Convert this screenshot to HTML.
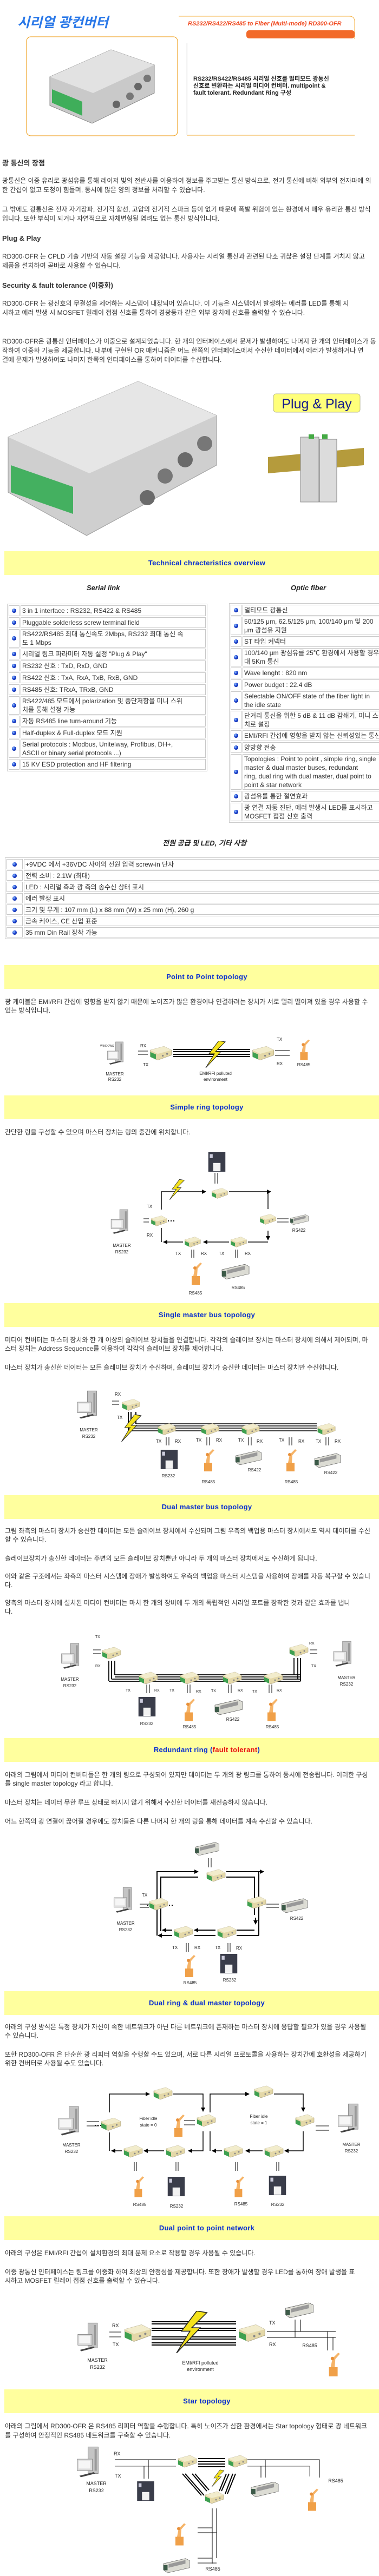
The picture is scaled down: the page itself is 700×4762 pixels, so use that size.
<!DOCTYPE html>
<html><head><meta charset="utf-8">
<style>
html,body{margin:0;padding:0;background:#fff}
#w{position:relative;width:700px;height:4762px;overflow:hidden;font-family:"Liberation Sans","Noto Sans CJK KR",sans-serif}
.t{position:absolute;white-space:nowrap;font-size:12px;line-height:16px;color:#333}
.h{position:absolute;white-space:nowrap;font-size:13px;font-weight:bold;color:#333}
.band{position:absolute;left:8px;width:748px;height:44px;line-height:44px;background:#ffff9e;text-align:center;color:#0a2fd0;font-weight:bold;font-size:13px;letter-spacing:.3px}
.sub{position:absolute;font-size:13px;font-weight:bold;font-style:italic;color:#222;white-space:nowrap}
table.k{position:absolute;border:1px solid #ccc;border-spacing:2px;background:#fff}
table.k td{border:1px solid #c8c8c8;padding:0 2px;font-size:12px;line-height:16px;color:#333;white-space:nowrap;vertical-align:middle}
table.k td.b{width:14px;padding:0 2px;text-align:center}
.dot{display:inline-block;width:8px;height:8px;border-radius:50%;background:radial-gradient(circle at 35% 35%,#9cf 0,#1a3fd0 45%,#001a80 100%)}
svg{position:absolute;left:0;top:0}
svg text{font-family:"Liberation Sans",sans-serif;fill:#222}
</style></head><body><div id="w">
<svg width="700" height="4762" viewBox="0 0 700 4762">
<defs>
<marker id="ar" markerWidth="8" markerHeight="8" refX="7" refY="4" orient="auto" markerUnits="userSpaceOnUse"><path d="M0,0 L8,4 L0,8z" fill="#000"/></marker>
<symbol id="cv" viewBox="0 0 40 26"><polygon points="4,8 26,2 38,8 38,16 16,24 4,18" fill="#e4d8a8" stroke="#aaa080" stroke-width=".6"/><polygon points="4,8 26,2 38,8 16,14" fill="#f2eccc"/><polygon points="4,11 13,15 13,23 4,19" fill="#3fa050"/><circle cx="24" cy="17" r="1.5" fill="#888"/><circle cx="31" cy="14" r="1.5" fill="#888"/></symbol>
<symbol id="pc" viewBox="0 0 40 45"><rect x="22" y="1" width="14" height="37" fill="#c4c4c4" stroke="#777" stroke-width=".6"/><rect x="31" y="4" width="3" height="30" fill="#999"/><rect x="7" y="18" width="21" height="16" fill="#ddd" stroke="#777" stroke-width=".6"/><rect x="9" y="20" width="16" height="11" fill="#f6f6f6"/><polygon points="10,41 30,36 32,38 12,43" fill="#444"/></symbol>
<symbol id="rb" viewBox="0 0 30 45"><rect x="9" y="29" width="15" height="16" fill="#f0a048"/><polygon points="12,29 15,14 25,4 28,6 20,15 19,29" fill="#f6b468"/><circle cx="15" cy="14" r="3" fill="#e8903a"/></symbol>
<symbol id="pr" viewBox="0 0 35 40"><rect x="0" y="0" width="35" height="40" fill="#3a3d4a"/><rect x="3" y="4" width="6" height="8" fill="#ccd"/><rect x="10" y="22" width="15" height="17" fill="#f2f2f2"/></symbol>
<symbol id="pl" viewBox="0 0 55 30"><polygon points="2,12 45,2 53,6 53,20 10,30 2,24" fill="#dcdcd4" stroke="#555" stroke-width=".7"/><polygon points="12,13 45,5 45,12 12,20" fill="#999"/><rect x="2" y="15" width="8" height="10" fill="#3c5a48"/></symbol>
<symbol id="lt" viewBox="0 0 40 50"><polygon points="26,0 8,24 18,24 2,50 30,20 20,20 38,2" fill="#f4e21c" stroke="#222" stroke-width="1"/></symbol>
</defs>

<!-- header -->
<text x="32" y="50" style="font:italic bold 25px 'Liberation Sans','Noto Sans CJK KR',sans-serif;fill:#2a78e8">시리얼 광컨버터</text>
<path d="M330,30 L645,30 Q655,30 655,40 L655,72" fill="none" stroke="#f5b040" stroke-width="1"/>
<rect x="455" y="56" width="200" height="15" rx="5" fill="#f26a2a"/>
<text x="347" y="47" style="font:italic bold 11px 'Liberation Sans',sans-serif;fill:#f04a20">RS232/RS422/RS485 to Fiber (Multi-mode) RD300-OFR</text>
<rect x="49" y="68" width="279" height="183" rx="8" fill="#fff" stroke="#f0a830" stroke-width="1.2"/>
<polygon points="92,142 205,92 285,120 285,172 170,228 92,195" fill="#c9c9c9" stroke="#888"/>
<polygon points="92,142 205,92 285,120 172,172" fill="#e2e2e2"/>
<polygon points="96,165 152,188 152,214 96,190" fill="#3fae5a"/>
<circle cx="215" cy="193" r="7" fill="#666"/><circle cx="240" cy="178" r="7" fill="#777"/><circle cx="255" cy="160" r="7" fill="#666"/><circle cx="272" cy="145" r="7" fill="#777"/>
<line x1="345" y1="250" x2="655" y2="250" stroke="#f0a830"/>
<line x1="345" y1="80" x2="345" y2="250" stroke="#f4f4f4" stroke-width="3"/>
<text x="357" y="149" style="font:bold 11px 'Liberation Sans','Noto Sans CJK KR',sans-serif">RS232/RS422/RS485 시리얼 신호를 멀티모드 광통신</text>
<text x="357" y="162" style="font:bold 11px 'Liberation Sans','Noto Sans CJK KR',sans-serif">신호로 변환하는 시리얼 미디어 컨버터. multipoint &amp;</text>
<text x="357" y="175" style="font:bold 11px 'Liberation Sans','Noto Sans CJK KR',sans-serif">fault tolerant. Redundant Ring 구성</text>

<!-- big product -->
<polygon points="15,808 255,705 400,768 400,860 160,990 15,910" fill="#cfcfcf" stroke="#999"/>
<polygon points="15,808 255,705 400,768 165,875" fill="#e6e6e6"/>
<polygon points="20,860 135,900 135,950 20,910" fill="#44b060"/>
<circle cx="272" cy="920" r="14" fill="#6a6a6a"/><circle cx="305" cy="880" r="14" fill="#777"/><circle cx="342" cy="850" r="14" fill="#6a6a6a"/><circle cx="378" cy="820" r="14" fill="#777"/>
<rect x="505" y="728" width="160" height="34" rx="5" fill="#ffff7a" stroke="#b8b890"/>
<text x="585" y="755" text-anchor="middle" style="font:25px 'Liberation Sans',sans-serif;fill:#141a8c">Plug &amp; Play</text>
<polygon points="495,845 672,828 672,860 495,875" fill="#b59b3c"/>
<rect x="555" y="808" width="34" height="120" fill="#d4d4d4" stroke="#888"/><rect x="590" y="812" width="32" height="116" fill="#dcdcdc" stroke="#888"/>
<rect x="570" y="803" width="10" height="8" fill="#4a4"/><rect x="595" y="803" width="10" height="8" fill="#4a4"/>

<!-- D1 point to point -->
<use href="#pc" x="183" y="1925" width="57" height="45"/>
<text x="185" y="1935" font-size="5">WINDOWS</text>
<text x="212" y="1988" font-size="8" text-anchor="middle">MASTER</text><text x="212" y="1998" font-size="8" text-anchor="middle">RS232</text>
<text x="259" y="1936" font-size="8">RX</text><text x="264" y="1971" font-size="8">TX</text>
<g stroke="#000"><line x1="255" y1="1943" x2="273" y2="1943"/><line x1="255" y1="1949" x2="273" y2="1949"/>
<line x1="320" y1="1940" x2="462" y2="1940" stroke-width="2"/><line x1="320" y1="1944" x2="462" y2="1944" stroke-width="2"/><line x1="320" y1="1949" x2="462" y2="1949" stroke-width="2"/><line x1="320" y1="1953" x2="462" y2="1953" stroke-width="2"/>
<line x1="508" y1="1942" x2="535" y2="1942"/><line x1="508" y1="1951" x2="535" y2="1951"/></g>
<use href="#cv" x="273" y="1932" width="46" height="30"/><use href="#cv" x="462" y="1932" width="46" height="30"/>
<use href="#lt" x="378" y="1924" width="40" height="50"/>
<text x="511" y="1924" font-size="8">TX</text><text x="511" y="1969" font-size="8">RX</text>
<use href="#rb" x="545" y="1918" width="30" height="42"/><text x="561" y="1971" font-size="8" text-anchor="middle">RS485</text>
<text x="398" y="1987" font-size="8" text-anchor="middle">EMI/RFI polluted</text><text x="398" y="1998" font-size="8" text-anchor="middle">environment</text>

<!-- D2 simple ring -->
<use href="#pr" x="383" y="2130" width="35" height="36"/>
<g stroke="#000" fill="none" stroke-width="1.5">
<line x1="397" y1="2168" x2="397" y2="2188" stroke-width="1"/><line x1="402" y1="2168" x2="402" y2="2188" stroke-width="1"/>
<polyline points="298,2236 298,2203 380,2203" marker-end="url(#ar)"/>
<polyline points="423,2203 500,2203" marker-end="url(#ar)"/>
<line x1="495" y1="2203" x2="495" y2="2235"/>
<line x1="495" y1="2275" x2="495" y2="2292" marker-end="url(#ar)"/>
<polyline points="495,2296 458,2296"/><line x1="423" y1="2296" x2="376" y2="2296" marker-end="url(#ar)"/>
<line x1="338" y1="2296" x2="302" y2="2296" marker-end="url(#ar)"/><line x1="298" y1="2296" x2="298" y2="2270"/>
<line x1="265" y1="2253" x2="275" y2="2253" stroke-width="1"/><line x1="265" y1="2259" x2="275" y2="2259" stroke-width="1"/>
<line x1="512" y1="2253" x2="533" y2="2253" stroke-width="1"/><line x1="512" y1="2259" x2="533" y2="2259" stroke-width="1"/>
<line x1="354" y1="2310" x2="354" y2="2325" stroke-width="1"/><line x1="358" y1="2310" x2="358" y2="2325" stroke-width="1"/>
<line x1="435" y1="2310" x2="435" y2="2325" stroke-width="1"/><line x1="439" y1="2310" x2="439" y2="2325" stroke-width="1"/>
</g>
<line x1="280" y1="2257" x2="325" y2="2257" stroke="#000" stroke-width="2" stroke-dasharray="2,3"/>
<use href="#cv" x="388" y="2193" width="34" height="26"/><use href="#cv" x="477" y="2241" width="34" height="26"/>
<use href="#cv" x="276" y="2244" width="34" height="26"/><use href="#cv" x="338" y="2283" width="34" height="26"/><use href="#cv" x="423" y="2283" width="34" height="26"/>
<use href="#lt" x="312" y="2180" width="30" height="38"/>
<use href="#pl" x="535" y="2243" width="36" height="22"/><text x="552" y="2277" font-size="8" text-anchor="middle">RS422</text>
<use href="#pc" x="190" y="2235" width="58" height="48"/>
<text x="225" y="2305" font-size="8" text-anchor="middle">MASTER</text><text x="225" y="2317" font-size="8" text-anchor="middle">RS232</text>
<text x="271" y="2233" font-size="8">TX</text><text x="271" y="2286" font-size="8">RX</text>
<text x="324" y="2320" font-size="8">TX</text><text x="371" y="2320" font-size="8">RX</text><text x="404" y="2320" font-size="8">TX</text><text x="452" y="2320" font-size="8">RX</text>
<use href="#rb" x="345" y="2330" width="30" height="45"/><text x="361" y="2393" font-size="8" text-anchor="middle">RS485</text>
<use href="#pl" x="408" y="2335" width="54" height="30"/><text x="440" y="2383" font-size="8" text-anchor="middle">RS485</text>

<!-- D3 single master bus -->
<use href="#pc" x="130" y="2570" width="58" height="55"/>
<text x="164" y="2646" font-size="8" text-anchor="middle">MASTER</text><text x="164" y="2658" font-size="8" text-anchor="middle">RS232</text>
<text x="212" y="2580" font-size="8">RX</text><text x="216" y="2623" font-size="8">TX</text>
<g stroke="#000"><line x1="207" y1="2590" x2="220" y2="2590"/><line x1="207" y1="2596" x2="220" y2="2596"/>
<line x1="237" y1="2610" x2="237" y2="2645" stroke-width="2"/><line x1="242" y1="2610" x2="242" y2="2640" stroke-width="2"/><line x1="251" y1="2610" x2="251" y2="2632" stroke-width="2"/>
<line x1="237" y1="2645" x2="585" y2="2645" stroke-width="1.5"/><line x1="242" y1="2640" x2="585" y2="2640" stroke-width="1.5"/><line x1="251" y1="2632" x2="585" y2="2632" stroke-width="1.5"/><line x1="251" y1="2636" x2="585" y2="2636" stroke-width="1.5"/>
<g stroke-width="1"><line x1="307" y1="2657" x2="307" y2="2672"/><line x1="312" y1="2657" x2="312" y2="2672"/><line x1="382" y1="2657" x2="382" y2="2672"/><line x1="387" y1="2657" x2="387" y2="2672"/><line x1="459" y1="2657" x2="459" y2="2672"/><line x1="464" y1="2657" x2="464" y2="2672"/><line x1="534" y1="2657" x2="534" y2="2672"/><line x1="539" y1="2657" x2="539" y2="2672"/><line x1="602" y1="2657" x2="602" y2="2672"/><line x1="607" y1="2657" x2="607" y2="2672"/></g></g>
<use href="#cv" x="222" y="2583" width="38" height="28"/>
<use href="#lt" x="220" y="2615" width="45" height="50"/>
<use href="#cv" x="288" y="2628" width="38" height="28"/><use href="#cv" x="368" y="2628" width="38" height="28"/><use href="#cv" x="443" y="2628" width="38" height="28"/><use href="#cv" x="583" y="2628" width="38" height="28"/>
<g font-size="8"><text x="288" y="2667">TX</text><text x="323" y="2667">RX</text><text x="362" y="2665">TX</text><text x="399" y="2665">RX</text><text x="440" y="2665">TX</text><text x="474" y="2667">RX</text><text x="515" y="2665">TX</text><text x="551" y="2667">RX</text><text x="583" y="2667">TX</text><text x="618" y="2667">RX</text></g>
<use href="#pr" x="295" y="2680" width="35" height="36"/><text x="311" y="2731" font-size="8" text-anchor="middle">RS232</text>
<use href="#rb" x="368" y="2675" width="30" height="45"/><text x="385" y="2742" font-size="8" text-anchor="middle">RS485</text>
<use href="#pl" x="432" y="2680" width="54" height="28"/><text x="470" y="2720" font-size="8" text-anchor="middle">RS422</text>
<use href="#rb" x="520" y="2675" width="30" height="45"/><text x="538" y="2742" font-size="8" text-anchor="middle">RS485</text>
<use href="#pl" x="578" y="2685" width="54" height="28"/><text x="611" y="2725" font-size="8" text-anchor="middle">RS422</text>

<!-- D4 dual master -->
<use href="#pc" x="98" y="3037" width="60" height="50"/>
<text x="129" y="3107" font-size="8" text-anchor="middle">MASTER</text><text x="129" y="3119" font-size="8" text-anchor="middle">RS232</text>
<use href="#pc" x="603" y="3033" width="55" height="50"/>
<text x="640" y="3104" font-size="8" text-anchor="middle">MASTER</text><text x="640" y="3116" font-size="8" text-anchor="middle">RS232</text>
<g font-size="7"><text x="176" y="3028">TX</text><text x="176" y="3082">RX</text><text x="571" y="3040">RX</text><text x="575" y="3082">TX</text></g>
<g stroke="#000"><line x1="172" y1="3050" x2="186" y2="3050"/><line x1="172" y1="3057" x2="186" y2="3057"/><line x1="572" y1="3050" x2="586" y2="3050"/><line x1="572" y1="3057" x2="586" y2="3057"/>
<g stroke-width="1.8"><line x1="201" y1="3070" x2="201" y2="3108"/><line x1="206" y1="3070" x2="206" y2="3104"/><line x1="212" y1="3070" x2="212" y2="3096"/>
<line x1="201" y1="3108" x2="555" y2="3108"/><line x1="206" y1="3104" x2="555" y2="3104"/><line x1="212" y1="3096" x2="555" y2="3096"/><line x1="212" y1="3100" x2="555" y2="3100"/>
<line x1="555" y1="3065" x2="555" y2="3108"/><line x1="550" y1="3065" x2="550" y2="3104"/><line x1="543" y1="3065" x2="543" y2="3096"/></g>
<g stroke-width="1"><line x1="271" y1="3114" x2="271" y2="3130"/><line x1="276" y1="3114" x2="276" y2="3130"/><line x1="346" y1="3114" x2="346" y2="3130"/><line x1="351" y1="3114" x2="351" y2="3130"/><line x1="422" y1="3114" x2="422" y2="3130"/><line x1="427" y1="3114" x2="427" y2="3130"/><line x1="497" y1="3114" x2="497" y2="3130"/><line x1="502" y1="3114" x2="502" y2="3130"/></g></g>
<use href="#cv" x="185" y="3042" width="40" height="28"/><use href="#cv" x="531" y="3037" width="40" height="28"/>
<use href="#cv" x="253" y="3088" width="40" height="28"/><use href="#cv" x="329" y="3088" width="40" height="28"/><use href="#cv" x="408" y="3088" width="40" height="28"/><use href="#cv" x="484" y="3088" width="40" height="28"/>
<g font-size="7"><text x="232" y="3127">TX</text><text x="285" y="3127">RX</text><text x="313" y="3127">TX</text><text x="362" y="3129">RX</text><text x="390" y="3128">TX</text><text x="439" y="3127">RX</text><text x="466" y="3129">TX</text><text x="511" y="3127">RX</text></g>
<use href="#pr" x="253" y="3137" width="37" height="36"/><text x="271" y="3189" font-size="8" text-anchor="middle">RS232</text>
<use href="#rb" x="332" y="3135" width="30" height="48"/><text x="350" y="3195" font-size="8" text-anchor="middle">RS485</text>
<use href="#pl" x="395" y="3140" width="55" height="30"/><text x="430" y="3181" font-size="8" text-anchor="middle">RS422</text>
<use href="#rb" x="485" y="3135" width="30" height="48"/><text x="503" y="3195" font-size="8" text-anchor="middle">RS485</text>

<!-- D5 redundant ring -->
<use href="#pl" x="355" y="3404" width="55" height="26"/>
<g stroke="#000" fill="none" stroke-width="2">
<line x1="385" y1="3435" x2="385" y2="3452" stroke-width="1"/><line x1="390" y1="3435" x2="390" y2="3452" stroke-width="1"/>
<polyline points="290,3578 290,3460 366,3460" marker-end="url(#ar)"/>
<polyline points="297,3570 297,3470 366,3470"/>
<polyline points="418,3460 487,3460" marker-end="url(#ar)"/>
<polyline points="418,3470 470,3470 470,3540"/>
<polyline points="478,3460 478,3578"/>
<line x1="472" y1="3545" x2="472" y2="3557" marker-end="url(#ar)"/>
<line x1="478" y1="3578" x2="437" y2="3578"/><line x1="470" y1="3568" x2="437" y2="3568"/>
<line x1="398" y1="3568" x2="359" y2="3568" marker-end="url(#ar)"/><line x1="398" y1="3578" x2="359" y2="3578"/>
<line x1="318" y1="3568" x2="300" y2="3568" marker-end="url(#ar)"/><line x1="318" y1="3578" x2="292" y2="3578" marker-end="url(#ar)"/>
<g stroke-width="1"><line x1="258" y1="3520" x2="275" y2="3520"/><line x1="258" y1="3526" x2="275" y2="3526"/><line x1="492" y1="3520" x2="515" y2="3520"/><line x1="492" y1="3526" x2="515" y2="3526"/>
<line x1="344" y1="3592" x2="344" y2="3608"/><line x1="348" y1="3592" x2="348" y2="3608"/><line x1="421" y1="3592" x2="421" y2="3608"/><line x1="425" y1="3592" x2="425" y2="3608"/></g></g>
<line x1="272" y1="3522" x2="320" y2="3522" stroke="#000" stroke-width="2" stroke-dasharray="2,3"/>
<use href="#cv" x="378" y="3453" width="40" height="28"/><use href="#cv" x="272" y="3506" width="40" height="28"/><use href="#cv" x="453" y="3503" width="40" height="28"/>
<use href="#cv" x="318" y="3558" width="40" height="28"/><use href="#cv" x="398" y="3558" width="40" height="28"/>
<use href="#pc" x="195" y="3488" width="60" height="50"/>
<text x="232" y="3558" font-size="8" text-anchor="middle">MASTER</text><text x="232" y="3570" font-size="8" text-anchor="middle">RS232</text>
<text x="262" y="3506" font-size="8">TX</text>
<use href="#pl" x="518" y="3508" width="52" height="28"/><text x="548" y="3549" font-size="8" text-anchor="middle">RS422</text>
<g font-size="8"><text x="318" y="3603">TX</text><text x="359" y="3603">RX</text><text x="397" y="3603">TX</text><text x="436" y="3604">RX</text></g>
<use href="#rb" x="333" y="3610" width="30" height="45"/><text x="351" y="3668" font-size="8" text-anchor="middle">RS485</text>
<use href="#pr" x="405" y="3612" width="35" height="36"/><text x="424" y="3663" font-size="8" text-anchor="middle">RS232</text>

<!-- D6 dual ring dual master -->
<g stroke="#000" fill="none" stroke-width="1.5">
<polyline points="202,3905 202,3871 276,3871" marker-end="url(#ar)"/>
<polyline points="320,3871 375,3871 375,3903" marker-end="url(#ar)"/>
<polyline points="375,3940 375,3976 348,3976" marker-end="url(#ar)"/>
<line x1="303" y1="3976" x2="266" y2="3976" marker-end="url(#ar)"/>
<line x1="225" y1="3976" x2="206" y2="3976" marker-end="url(#ar)"/><line x1="202" y1="3942" x2="202" y2="3976"/>
<polyline points="388,3905 388,3871 460,3871" marker-end="url(#ar)"/>
<polyline points="506,3871 560,3871 560,3903" marker-end="url(#ar)"/>
<polyline points="560,3940 560,3976 526,3976" marker-end="url(#ar)"/>
<line x1="485" y1="3976" x2="454" y2="3976" marker-end="url(#ar)"/>
<line x1="410" y1="3976" x2="392" y2="3976" marker-end="url(#ar)"/><line x1="388" y1="3940" x2="388" y2="3976"/>
<g stroke-width="1"><line x1="160" y1="3922" x2="183" y2="3922"/><line x1="160" y1="3930" x2="183" y2="3930"/><line x1="340" y1="3920" x2="360" y2="3920"/><line x1="340" y1="3928" x2="360" y2="3928"/><line x1="583" y1="3930" x2="608" y2="3930"/><line x1="583" y1="3938" x2="608" y2="3938"/>
<line x1="248" y1="3997" x2="248" y2="4013"/><line x1="252" y1="3997" x2="252" y2="4013"/><line x1="325" y1="3997" x2="325" y2="4013"/><line x1="329" y1="3997" x2="329" y2="4013"/><line x1="435" y1="3997" x2="435" y2="4013"/><line x1="439" y1="3997" x2="439" y2="4013"/><line x1="511" y1="3997" x2="511" y2="4013"/><line x1="515" y1="3997" x2="515" y2="4013"/></g></g>
<line x1="175" y1="3929" x2="225" y2="3929" stroke="#000" stroke-width="2" stroke-dasharray="2,3"/>
<use href="#cv" x="280" y="3856" width="40" height="28"/><use href="#cv" x="360" y="3906" width="40" height="28"/><use href="#cv" x="183" y="3913" width="42" height="28"/>
<use href="#cv" x="225" y="3963" width="40" height="28"/><use href="#cv" x="303" y="3963" width="40" height="28"/>
<use href="#cv" x="466" y="3853" width="40" height="28"/><use href="#cv" x="542" y="3906" width="40" height="28"/>
<use href="#cv" x="410" y="3963" width="40" height="28"/><use href="#cv" x="485" y="3963" width="40" height="28"/>
<use href="#pc" x="95" y="3893" width="60" height="57"/><use href="#pc" x="615" y="3888" width="52" height="57"/>
<text x="132" y="3968" font-size="8" text-anchor="middle">MASTER</text><text x="132" y="3980" font-size="8" text-anchor="middle">RS232</text>
<text x="649" y="3967" font-size="8" text-anchor="middle">MASTER</text><text x="649" y="3979" font-size="8" text-anchor="middle">RS232</text>
<text x="274" y="3919" font-size="8" text-anchor="middle">Fiber idle</text><text x="274" y="3931" font-size="8" text-anchor="middle">state = 0</text>
<text x="478" y="3915" font-size="8" text-anchor="middle">Fiber idle</text><text x="478" y="3927" font-size="8" text-anchor="middle">state = 1</text>
<use href="#rb" x="313" y="3905" width="30" height="45"/>
<use href="#rb" x="240" y="4018" width="28" height="45"/><text x="258" y="4078" font-size="8" text-anchor="middle">RS485</text>
<use href="#pr" x="308" y="4024" width="35" height="36"/><text x="326" y="4081" font-size="8" text-anchor="middle">RS232</text>
<use href="#rb" x="425" y="4018" width="28" height="45"/><text x="445" y="4077" font-size="8" text-anchor="middle">RS485</text>
<use href="#pr" x="495" y="4022" width="35" height="36"/><text x="513" y="4078" font-size="8" text-anchor="middle">RS232</text>

<!-- D7 dual p2p -->
<use href="#pc" x="130" y="4293" width="60" height="56"/>
<text x="180" y="4366" font-size="9" text-anchor="middle">MASTER</text><text x="180" y="4379" font-size="9" text-anchor="middle">RS232</text>
<text x="207" y="4302" font-size="9">RX</text><text x="208" y="4337" font-size="9">TX</text>
<g stroke="#000"><line x1="202" y1="4311" x2="224" y2="4311"/><line x1="202" y1="4320" x2="224" y2="4320"/>
<g stroke-width="2"><line x1="280" y1="4292" x2="436" y2="4292"/><line x1="280" y1="4296" x2="436" y2="4296"/><line x1="280" y1="4304" x2="436" y2="4304"/><line x1="280" y1="4308" x2="436" y2="4308"/><line x1="280" y1="4320" x2="436" y2="4320"/><line x1="280" y1="4324" x2="436" y2="4324"/><line x1="280" y1="4331" x2="436" y2="4331"/><line x1="280" y1="4335" x2="436" y2="4335"/></g>
<line x1="493" y1="4310" x2="620" y2="4310"/><line x1="493" y1="4321" x2="620" y2="4321"/>
<line x1="545" y1="4288" x2="545" y2="4321"/><line x1="555" y1="4288" x2="555" y2="4310"/><line x1="605" y1="4310" x2="605" y2="4345"/><line x1="615" y1="4321" x2="615" y2="4345"/></g>
<use href="#cv" x="225" y="4290" width="56" height="46"/><use href="#cv" x="436" y="4290" width="56" height="46"/>
<use href="#lt" x="318" y="4272" width="72" height="78"/>
<text x="497" y="4297" font-size="9">TX</text><text x="497" y="4337" font-size="9">RX</text>
<use href="#pl" x="525" y="4255" width="56" height="30"/><text x="572" y="4339" font-size="9" text-anchor="middle">RS485</text>
<use href="#rb" x="598" y="4345" width="32" height="48"/>
<text x="370" y="4371" font-size="9" text-anchor="middle">EMI/RFI polluted</text><text x="370" y="4383" font-size="9" text-anchor="middle">environment</text>

<!-- D8 star -->
<use href="#pc" x="130" y="4522" width="60" height="60"/>
<text x="178" y="4594" font-size="9" text-anchor="middle">MASTER</text><text x="178" y="4607" font-size="9" text-anchor="middle">RS232</text>
<text x="210" y="4539" font-size="9">RX</text><text x="212" y="4580" font-size="9">TX</text>
<g stroke="#000"><line x1="212" y1="4547" x2="325" y2="4547"/><line x1="212" y1="4559" x2="325" y2="4559" stroke="#666"/>
<line x1="266" y1="4559" x2="266" y2="4582"/><line x1="274" y1="4547" x2="274" y2="4582"/>
<g stroke-width="2"><line x1="366" y1="4545" x2="416" y2="4545"/><line x1="366" y1="4550" x2="416" y2="4550"/><line x1="366" y1="4555" x2="416" y2="4555"/><line x1="366" y1="4560" x2="416" y2="4560"/>
<line x1="337" y1="4573" x2="372" y2="4613"/><line x1="342" y1="4573" x2="377" y2="4613"/><line x1="355" y1="4573" x2="382" y2="4605"/><line x1="360" y1="4573" x2="386" y2="4603"/>
<line x1="418" y1="4573" x2="405" y2="4605"/><line x1="423" y1="4573" x2="409" y2="4605"/><line x1="430" y1="4573" x2="416" y2="4610"/><line x1="435" y1="4573" x2="420" y2="4610"/></g>
<polyline points="457,4547 590,4547 590,4580" fill="none"/><polyline points="457,4559 572,4559 572,4578" fill="none" stroke="#666"/>
<line x1="482" y1="4559" x2="482" y2="4580"/><line x1="490" y1="4547" x2="490" y2="4580"/>
<line x1="392" y1="4637" x2="392" y2="4739"/><line x1="400" y1="4637" x2="400" y2="4729"/>
<line x1="365" y1="4673" x2="392" y2="4673"/><line x1="365" y1="4682" x2="400" y2="4682"/><line x1="365" y1="4729" x2="392" y2="4729"/><line x1="365" y1="4738" x2="400" y2="4738"/></g>
<use href="#cv" x="325" y="4535" width="40" height="30"/><use href="#cv" x="418" y="4535" width="40" height="30"/><use href="#cv" x="375" y="4602" width="40" height="30"/>
<use href="#lt" x="390" y="4565" width="25" height="33"/>
<use href="#pr" x="250" y="4587" width="38" height="36"/>
<use href="#pl" x="462" y="4586" width="54" height="30"/>
<text x="620" y="4589" font-size="9" text-anchor="middle">RS485</text>
<use href="#rb" x="560" y="4595" width="30" height="48"/>
<use href="#rb" x="315" y="4660" width="30" height="46"/>
<use href="#pl" x="300" y="4727" width="52" height="30"/><text x="393" y="4752" font-size="9" text-anchor="middle">RS485</text>
</svg>

<!-- text blocks -->
<div class="h" style="left:4px;top:291px">광 통신의 장점</div>
<div class="t" style="left:4px;top:326px">광통신은 이중 유리로 광섬유를 통해 레이저 빛의 전반사를 이용하여 정보를 주고받는 통신 방식으로, 전기 통신에 비해 외부의 전자파에 의</div>
<div class="t" style="left:4px;top:343px">한 간섭이 없고 도청이 힘들며, 동시에 많은 양의 정보를 처리할 수 있습니다.</div>
<div class="t" style="left:4px;top:379px">그 밖에도 광통신은 전자 자기장파, 전기적 합선, 고압의 전기적 스파크 등이 없기 때문에 폭발 위험이 있는 환경에서 매우 유리한 통신 방식</div>
<div class="t" style="left:4px;top:396px">입니다. 또한 부식이 되거나 자연적으로 자체변형될 염려도 없는 통신 방식입니다.</div>
<div class="h" style="left:4px;top:433px">Plug &amp; Play</div>
<div class="t" style="left:4px;top:466px">RD300-OFR 는 CPLD 기술 기반의 자동 설정 기능을 제공합니다. 사용자는 시리얼 통신과 관련된 다소 귀찮은 설정 단계를 거치지 않고</div>
<div class="t" style="left:4px;top:483px">제품을 설치하여 곧바로 사용할 수 있습니다.</div>
<div class="h" style="left:4px;top:517px">Security &amp; fault tolerance (이중화)</div>
<div class="t" style="left:4px;top:553px">RD300-OFR 는 광신호의 무결성을 제어하는 시스템이 내장되어 있습니다. 이 기능은 시스템에서 발생하는 에러를 LED를 통해 지</div>
<div class="t" style="left:4px;top:570px">시하고 에러 발생 시 MOSFET 릴레이 접점 신호를 통하여 경광등과 같은 외부 장치에 신호를 출력할 수 있습니다.</div>
<div class="t" style="left:4px;top:623px">RD300-OFR은 광통신 인터페이스가 이중으로 설계되었습니다. 한 개의 인터페이스에서 문제가 발생하여도 나머지 한 개의 인터페이스가 동</div>
<div class="t" style="left:4px;top:640px">작하여 이중화 기능을 제공합니다. 내부에 구현된 OR 매커니즘은 어느 한쪽의 인터페이스에서 수신한 데이터에서 에러가 발생하거나 연</div>
<div class="t" style="left:4px;top:657px">결에 문제가 발생하여도 나머지 한쪽의 인터페이스를 통하여 데이터를 수신합니다.</div>

<div class="band" style="top:1019px">Technical chracteristics overview</div>
<div class="sub" style="left:160px;top:1079px">Serial link</div>
<div class="sub" style="left:537px;top:1079px">Optic fiber</div>

<table class="k" style="left:13px;top:1116px;width:370px">
<tr style="height:20px"><td class="b"><span class="dot"></span></td><td>3 in 1 interface : RS232, RS422 &amp; RS485</td></tr>
<tr style="height:20px"><td class="b"><span class="dot"></span></td><td>Pluggable solderless screw terminal field</td></tr>
<tr style="height:32px"><td class="b"><span class="dot"></span></td><td>RS422/RS485 최대 통신속도 2Mbps, RS232 최대 통신 속<br>도 1 Mbps</td></tr>
<tr style="height:20px"><td class="b"><span class="dot"></span></td><td>시리얼 링크 파라미터 자동 설정 "Plug &amp; Play"</td></tr>
<tr style="height:20px"><td class="b"><span class="dot"></span></td><td>RS232 신호 : TxD, RxD, GND</td></tr>
<tr style="height:20px"><td class="b"><span class="dot"></span></td><td>RS422 신호 : TxA, RxA, TxB, RxB, GND</td></tr>
<tr style="height:20px"><td class="b"><span class="dot"></span></td><td>RS485 신호: TRxA, TRxB, GND</td></tr>
<tr style="height:32px"><td class="b"><span class="dot"></span></td><td>RS422/485 모드에서 polarization 및 종단저항을 미니 스위<br>치를 통해 설정 가능</td></tr>
<tr style="height:20px"><td class="b"><span class="dot"></span></td><td>자동 RS485 line turn-around 기능</td></tr>
<tr style="height:20px"><td class="b"><span class="dot"></span></td><td>Half-duplex &amp; Full-duplex 모드 지원</td></tr>
<tr style="height:32px"><td class="b"><span class="dot"></span></td><td>Serial protocols : Modbus, Unitelway, Profibus, DH+,<br>ASCII or binary serial protocols ...)</td></tr>
<tr style="height:20px"><td class="b"><span class="dot"></span></td><td>15 KV ESD protection and HF filtering</td></tr>
</table>

<table class="k" style="left:423px;top:1115px;width:340px">
<tr style="height:20px"><td class="b"><span class="dot"></span></td><td>멀티모드 광통신</td></tr>
<tr style="height:32px"><td class="b"><span class="dot"></span></td><td>50/125 μm, 62.5/125 μm, 100/140 μm 및 200<br>μm 광섬유 지원</td></tr>
<tr style="height:20px"><td class="b"><span class="dot"></span></td><td>ST 타입 커넥터</td></tr>
<tr style="height:32px"><td class="b"><span class="dot"></span></td><td>100/140 μm 광섬유를 25℃ 환경에서 사용할 경우 최<br>대 5Km 통신</td></tr>
<tr style="height:20px"><td class="b"><span class="dot"></span></td><td>Wave lenght : 820 nm</td></tr>
<tr style="height:20px"><td class="b"><span class="dot"></span></td><td>Power budget : 22.4 dB</td></tr>
<tr style="height:32px"><td class="b"><span class="dot"></span></td><td>Selectable ON/OFF state of the fiber light in<br>the idle state</td></tr>
<tr style="height:32px"><td class="b"><span class="dot"></span></td><td>단거리 통신을 위한 5 dB &amp; 11 dB 감쇄기, 미니 스위<br>치로 설정</td></tr>
<tr style="height:20px"><td class="b"><span class="dot"></span></td><td>EMI/RFI 간섭에 영향을 받지 않는 신뢰성있는 통신</td></tr>
<tr style="height:20px"><td class="b"><span class="dot"></span></td><td>양방향 전송</td></tr>
<tr style="height:59px"><td class="b"><span class="dot"></span></td><td>Topologies : Point to point , simple ring, single<br>master &amp; dual master buses, redundant<br>ring, dual ring with dual master, dual point to<br>point &amp; star network</td></tr>
<tr style="height:20px"><td class="b"><span class="dot"></span></td><td>광섬유를 통한 절연효과</td></tr>
<tr style="height:32px"><td class="b"><span class="dot"></span></td><td>광 연결 자동 진단, 에러 발생시 LED를 표시하고<br>MOSFET 접점 신호 출력</td></tr>
</table>

<div class="sub" style="left:300px;top:1548px">전원 공급 및 LED, 기타 사항</div>
<table class="k" style="left:9px;top:1585px;width:760px">
<tr style="height:19px"><td class="b" style="width:24px"><span class="dot"></span></td><td>+9VDC 에서 +36VDC 사이의 전원 입력 screw-in 단자</td></tr>
<tr style="height:19px"><td class="b"><span class="dot"></span></td><td>전력 소비 : 2.1W (최대)</td></tr>
<tr style="height:19px"><td class="b"><span class="dot"></span></td><td>LED : 시리얼 측과 광 측의 송수신 상태 표시</td></tr>
<tr style="height:19px"><td class="b"><span class="dot"></span></td><td>에러 발생 표시</td></tr>
<tr style="height:19px"><td class="b"><span class="dot"></span></td><td>크기 및 무게 : 107 mm (L) x 88 mm (W) x 25 mm (H), 260 g</td></tr>
<tr style="height:19px"><td class="b"><span class="dot"></span></td><td>금속 케이스, CE 산업 표준</td></tr>
<tr style="height:19px"><td class="b"><span class="dot"></span></td><td>35 mm Din Rail 장착 가능</td></tr>
</table>

<div class="band" style="top:1784px">Point to Point topology</div>
<div class="t" style="left:9px;top:1844px">광 케이블은 EMI/RFI 간섭에 영향을 받지 않기 때문에 노이즈가 많은 환경이나 연결하려는 장치가 서로 멀리 떨어져 있을 경우 사용할 수</div>
<div class="t" style="left:9px;top:1860px">있는 방식입니다.</div>

<div class="band" style="top:2025px">Simple ring topology</div>
<div class="t" style="left:9px;top:2085px">간단한 링을 구성할 수 있으며 마스터 장치는 링의 중간에 위치합니다.</div>

<div class="band" style="top:2409px">Single master bus topology</div>
<div class="t" style="left:9px;top:2469px">미디어 컨버터는 마스터 장치와 한 개 이상의 슬레이브 장치들을 연결합니다. 각각의 슬레이브 장치는 마스터 장치에 의해서 제어되며, 마</div>
<div class="t" style="left:9px;top:2485px">스터 장치는 Address Sequence를 이용하여 각각의 슬레이브 장치를 제어합니다.</div>
<div class="t" style="left:9px;top:2520px">마스터 장치가 송신한 데이터는 모든 슬레이브 장치가 수신하며, 슬레이브 장치가 송신한 데이터는 마스터 장치만 수신합니다.</div>

<div class="band" style="top:2764px">Dual master bus topology</div>
<div class="t" style="left:9px;top:2822px">그림 좌측의 마스터 장치가 송신한 데이터는 모든 슬레이브 장치에서 수신되며 그림 우측의 백업용 마스터 장치에서도 역시 데이터를 수신</div>
<div class="t" style="left:9px;top:2838px">할 수 있습니다.</div>
<div class="t" style="left:9px;top:2873px">슬레이브장치가 송신한 데이터는 주변의 모든 슬레이브 장치뿐만 아니라 두 개의 마스터 장치에서도 수신하게 됩니다.</div>
<div class="t" style="left:9px;top:2906px">이와 같은 구조에서는 좌측의 마스터 시스템에 장애가 발생하여도 우측의 백업용 마스터 시스템을 사용하여 장애를 자동 복구할 수 있습니</div>
<div class="t" style="left:9px;top:2922px">다.</div>
<div class="t" style="left:9px;top:2955px">양측의 마스터 장치에 설치된 미디어 컨버터는 마치 한 개의 장비에 두 개의 독립적인 시리얼 포트를 장착한 것과 같은 효과를 냅니</div>
<div class="t" style="left:9px;top:2971px">다.</div>

<div class="band" style="top:3213px">Redundant ring (<span style="color:#e81010">fault tolerant</span>)</div>
<div class="t" style="left:9px;top:3273px">아래의 그림에서 미디어 컨버터들은 한 개의 링으로 구성되어 있지만 데이터는 두 개의 광 링크를 통하여 동시에 전송됩니다. 이러한 구성</div>
<div class="t" style="left:9px;top:3289px">를 single master topology 라고 합니다.</div>
<div class="t" style="left:9px;top:3324px">마스터 장치는 데이터 무한 루프 상태로 빠지지 않기 위해서 수신한 데이터를 재전송하지 않습니다.</div>
<div class="t" style="left:9px;top:3359px">어느 한쪽의 광 연결이 끊어질 경우에도 장치들은 다른 나머지 한 개의 링을 통해 데이터를 계속 수신할 수 있습니다.</div>

<div class="band" style="top:3681px">Dual ring &amp; dual master topology</div>
<div class="t" style="left:9px;top:3739px">아래의 구성 방식은 특정 장치가 자신이 속한 네트워크가 아닌 다른 네트워크에 존재하는 마스터 장치에 응답할 필요가 있을 경우 사용될</div>
<div class="t" style="left:9px;top:3755px">수 있습니다.</div>
<div class="t" style="left:9px;top:3790px">또한 RD300-OFR 은 단순한 광 리피터 역할을 수행할 수도 있으며, 서로 다른 시리얼 프로토콜을 사용하는 장치간에 호환성을 제공하기</div>
<div class="t" style="left:9px;top:3806px">위한 컨버터로 사용될 수도 있습니다.</div>

<div class="band" style="top:4097px">Dual point to point network</div>
<div class="t" style="left:9px;top:4157px">아래의 구성은 EMI/RFI 간섭이 설치환경의 최대 문제 요소로 작용할 경우 사용될 수 있습니다.</div>
<div class="t" style="left:9px;top:4192px">이중 광통신 인터페이스는 링크를 이중화 하여 최상의 안정성을 제공합니다. 또한 장애가 발생할 경우 LED를 통하여 장애 발생을 표</div>
<div class="t" style="left:9px;top:4208px">시하고 MOSFET 릴레이 접점 신호를 출력할 수 있습니다.</div>

<div class="band" style="top:4417px">Star topology</div>
<div class="t" style="left:9px;top:4477px">아래의 그림에서 RD300-OFR 은 RS485 리피터 역할을 수행합니다. 특히 노이즈가 심한 환경에서는 Star topology 형태로 광 네트워크</div>
<div class="t" style="left:9px;top:4494px">를 구성하여 안정적인 RS485 네트워크를 구축할 수 있습니다.</div>
</div></body></html>
